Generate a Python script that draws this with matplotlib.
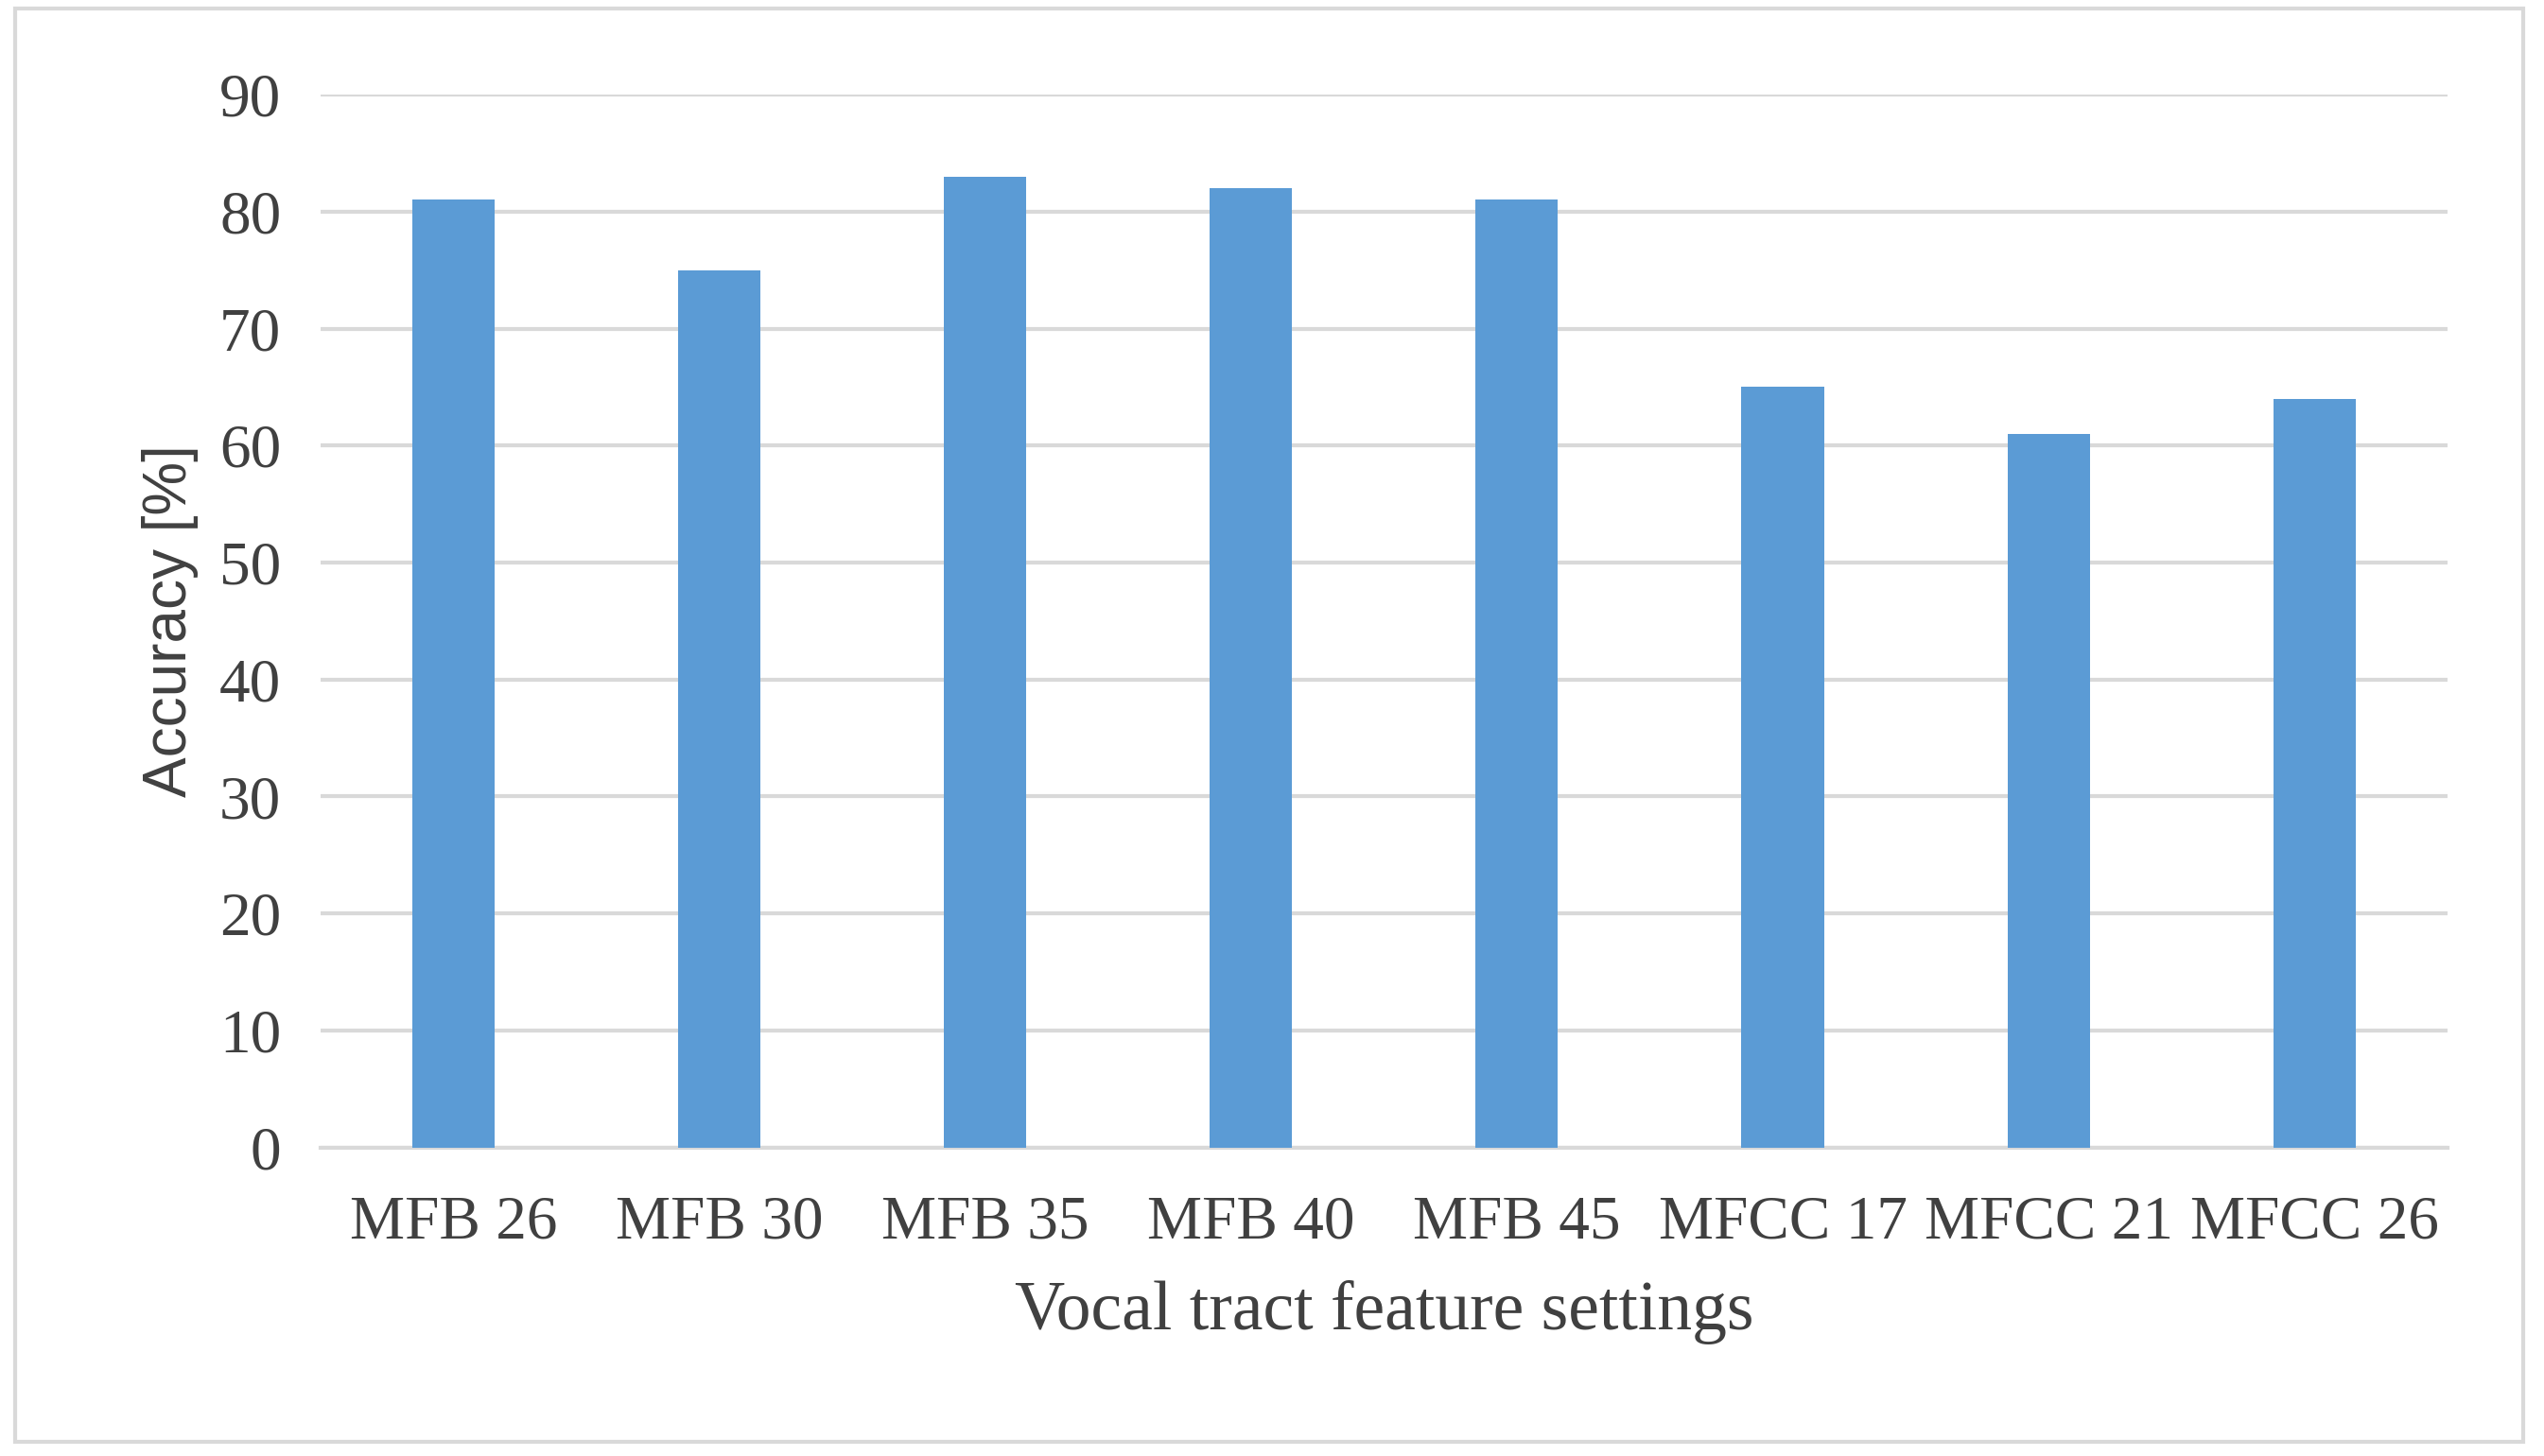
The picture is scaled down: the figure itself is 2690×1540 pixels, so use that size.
import matplotlib.pyplot as plt
from matplotlib.patches import Rectangle

# data
settings = ["MFB 26", "MFB 30", "MFB 35", "MFB 40", "MFB 45", "MFCC 17", "MFCC 21", "MFCC 26"]
accuracy = [81, 75, 83, 82, 81, 65, 61, 64]
y_ticks = list(range(0, 100, 10))

fig = plt.figure(figsize=(26.9, 15.4), dpi=100)
ax = fig.add_axes([0.126, 0.212, 0.836, 0.723])

# outer frame
fig.patches.append(Rectangle((0.006, 0.01), 0.986, 0.984, transform=fig.transFigure,
                             fill=False, edgecolor="#d9d9d9", linewidth=3))

ax.bar(range(len(settings)), accuracy, width=0.31, color="#5b9bd5", zorder=3)
ax.set_ylim(0, 90)
ax.set_xlim(-0.5, len(settings) - 0.5)
ax.set_yticks(y_ticks)
ax.set_xticks(range(len(settings)))
ax.set_xticklabels(settings)
ax.grid(axis="y", color="#d9d9d9", linewidth=3, zorder=0)
for s in ["top", "right", "left"]:
    ax.spines[s].set_visible(False)
ax.spines["bottom"].set_color("#d9d9d9")
ax.spines["bottom"].set_linewidth(3)
ax.tick_params(axis="x", length=0, labelsize=47, colors="#404040", pad=36)
ax.tick_params(axis="y", length=0, labelsize=47, colors="#404040", pad=30)
for lbl in ax.get_xticklabels() + ax.get_yticklabels():
    lbl.set_family("Liberation Serif")
ax.set_xlabel("Vocal tract feature settings", fontsize=53, family="Liberation Serif",
              color="#404040", labelpad=22)
ax.set_ylabel("Accuracy [%]", fontsize=46, family="Liberation Sans", color="#404040", labelpad=16)

fig.savefig("out.png")
